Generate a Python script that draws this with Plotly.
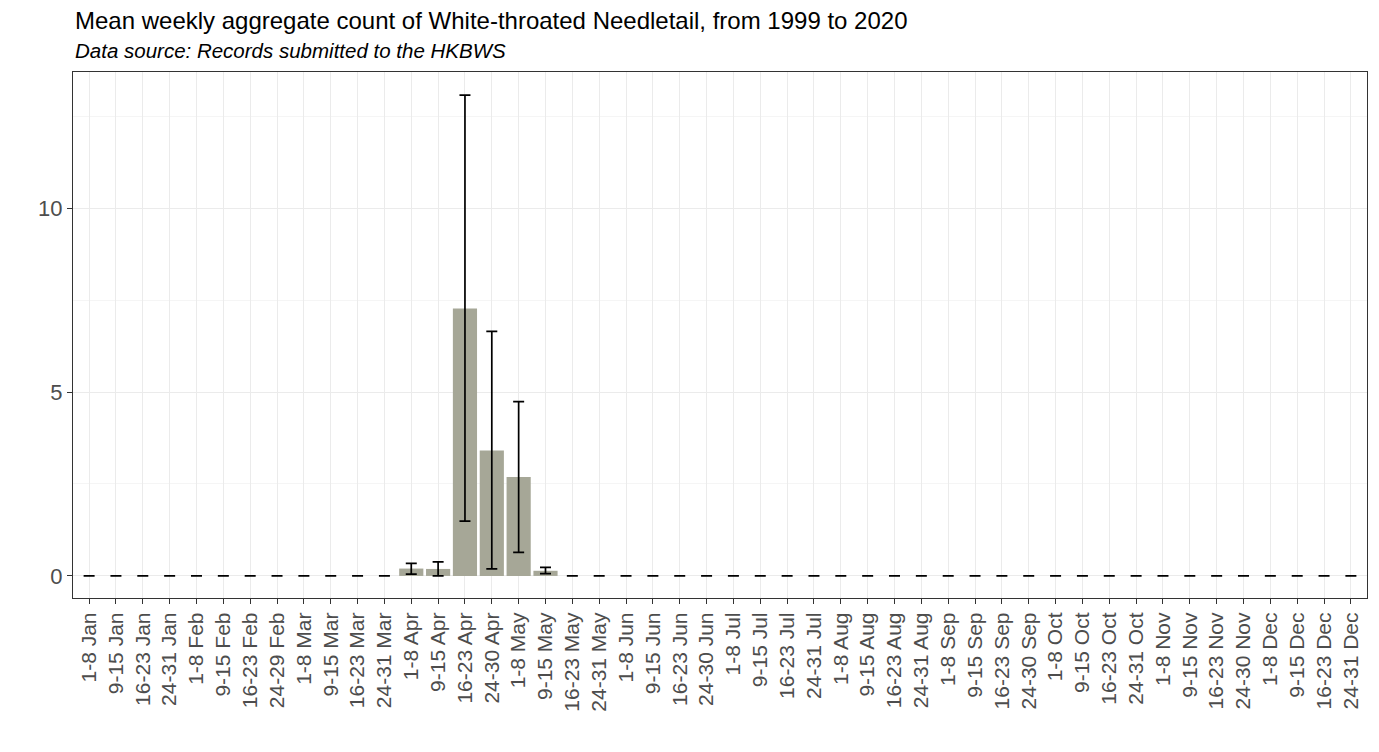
import plotly.graph_objects as go

MONTHS = ["Jan", "Feb", "Mar", "Apr", "May", "Jun",
          "Jul", "Aug", "Sep", "Oct", "Nov", "Dec"]
LAST_WEEK = ["24-31", "24-29", "24-31", "24-30", "24-31", "24-30",
             "24-31", "24-31", "24-30", "24-31", "24-30", "24-31"]

weeks = []
for month, last in zip(MONTHS, LAST_WEEK):
    for part in ["1-8", "9-15", "16-23", last]:
        weeks.append(f"{part} {month}")

# mean weekly aggregate count, with error bar ends
mean_count = [0] * 48
err_upper = [0] * 48
err_lower = [0] * 48

peak_weeks = ["1-8 Apr", "9-15 Apr", "16-23 Apr", "24-30 Apr", "1-8 May", "9-15 May"]
peak_mean = [0.20, 0.19, 7.27, 3.41, 2.69, 0.14]
peak_high = [0.34, 0.38, 13.07, 6.65, 4.74, 0.23]
peak_low = [0.05, 0.00, 1.49, 0.19, 0.64, 0.06]

for wk, m, hi, lo in zip(peak_weeks, peak_mean, peak_high, peak_low):
    i = weeks.index(wk)
    mean_count[i] = m
    err_upper[i] = hi - m
    err_lower[i] = m - lo

FONT = "Liberation Sans, Arial, sans-serif"

fig = go.Figure()
fig.add_trace(
    go.Bar(
        x=weeks,
        y=mean_count,
        marker={"color": "#a6a797", "line": {"width": 0}},
        error_y={
            "type": "data",
            "symmetric": False,
            "array": err_upper,
            "arrayminus": err_lower,
            "color": "#000000",
            "thickness": 1.7,
            "width": 5.5,
        },
        hovertemplate="%{x}: %{y:.2f}<extra></extra>",
    )
)

# the page body adds an 8px margin, so the figure is sized to fit inside it
fig.update_layout(
    width=1363,
    height=736,
    margin={"l": 65, "r": 4, "t": 64, "b": 146},
    plot_bgcolor="#ffffff",
    paper_bgcolor="#ffffff",
    bargap=0.1,
    showlegend=False,
    font={"family": FONT, "color": "#000000"},
    annotations=[
        {
            "text": "Mean weekly aggregate count of White-throated Needletail, from 1999 to 2020",
            "xref": "paper", "yref": "paper", "x": 0, "y": 1,
            "xanchor": "left", "yanchor": "middle", "yshift": 52,
            "showarrow": False,
            "font": {"size": 24, "family": FONT, "color": "#000000"},
        },
        {
            "text": "<i>Data source: Records submitted to the HKBWS</i>",
            "xref": "paper", "yref": "paper", "x": 0, "y": 1,
            "xanchor": "left", "yanchor": "middle", "yshift": 22,
            "showarrow": False,
            "font": {"size": 20.5, "family": FONT, "color": "#000000"},
        },
    ],
)

fig.update_xaxes(
    type="category",
    range=[-0.6, 47.6],
    automargin=False,
    tickangle=-90,
    tickfont={"size": 21, "color": "#4d4d4d", "family": FONT},
    ticks="outside",
    ticklen=5,
    tickcolor="#333333",
    showgrid=True,
    gridcolor="#ebebeb",
    gridwidth=1.2,
    showline=True,
    linecolor="#333333",
    linewidth=1.2,
    mirror=True,
    zeroline=False,
)
fig.update_yaxes(
    range=[-0.6, 13.7],
    automargin=False,
    tickvals=[0, 5, 10],
    tickfont={"size": 22, "color": "#4d4d4d", "family": FONT},
    ticks="outside",
    ticklen=5,
    tickcolor="#333333",
    showgrid=True,
    gridcolor="#ebebeb",
    gridwidth=1.2,
    minor={"tickvals": [2.5, 7.5, 12.5], "showgrid": True,
           "gridcolor": "#f5f5f5", "gridwidth": 0.8, "ticks": ""},
    showline=True,
    linecolor="#333333",
    linewidth=1.2,
    mirror=True,
    zeroline=False,
)

fig.write_html("out.html")
